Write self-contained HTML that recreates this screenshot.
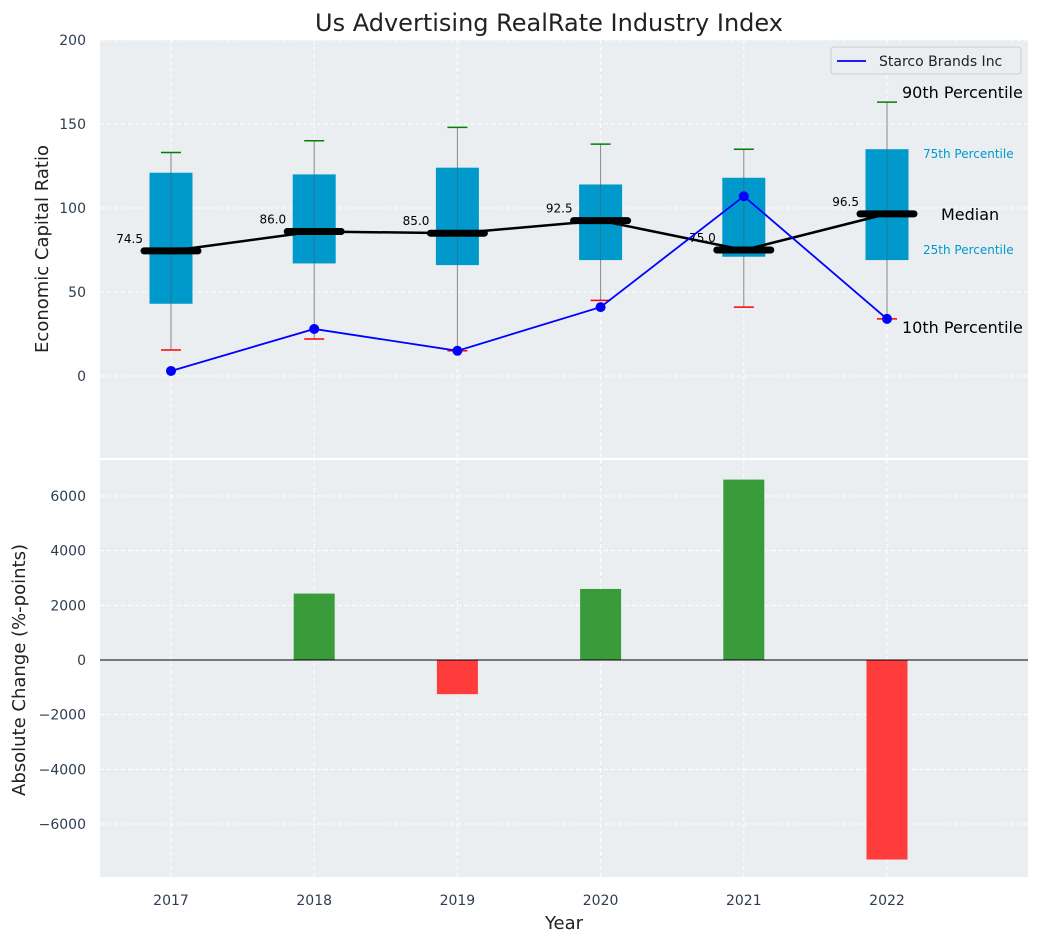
<!DOCTYPE html>
<html><head><meta charset="utf-8"><style>
body{margin:0;background:#fff;font-family:"Liberation Sans","DejaVu Sans",sans-serif}
svg text{font-family:"DejaVu Sans","Liberation Sans",sans-serif}
</style></head><body>
<svg id="c" width="1039" height="942" xmlns="http://www.w3.org/2000/svg"></svg>
<script>
const years=["2017","2018","2019","2020","2021","2022"];
const p10=[15.5,22,15,45,41,34];
const p25=[43,67,66,69,71,69];
const med=[74.5,86,85,92.5,75,96.5];
const p75=[121,120,124,114,118,135];
const p90=[133,140,148,138,135,163];
const company=[3,28,15,41,107,34];
const change=[0,2430,-1250,2600,6600,-7300];
const topTicks=[0,50,100,150,200];
const botTicks=[-6000,-4000,-2000,0,2000,4000,6000];

const S=document.getElementById('c');const NS='http://www.w3.org/2000/svg';
function el(t,a,txt){const e=document.createElementNS(NS,t);for(const k in a)e.setAttribute(k,a[k]);if(txt!==undefined)e.textContent=txt;S.appendChild(e);return e;}
const X0=100,X1=1028;
const x=i=>171+i*143.2;
const T0=40,T1=458; const yT=v=>376-v*1.68;
const B0=460,B1=877; const yB=v=>660-v*164/6000;

let e;
e=el('rect',{x:X0,y:T0,width:X1-X0,height:T1-T0,fill:'#eaeef0'});

e=el('rect',{x:X0,y:B0,width:X1-X0,height:B1-B0,fill:'#eaeef0'});


years.forEach((y,i)=>{
 e=el('line',{x1:x(i),x2:x(i),y1:T0,y2:T1,stroke:'#fff','stroke-dasharray':'4,3'});
 
 e=el('line',{x1:x(i),x2:x(i),y1:B0,y2:B1,stroke:'#fff','stroke-dasharray':'4,3'});
 
 e=el('text',{x:x(i),y:905,'text-anchor':'middle','font-size':14,fill:'#2d3e50'},y);
 
});
topTicks.forEach(v=>{
 e=el('line',{x1:X0,x2:X1,y1:yT(v),y2:yT(v),stroke:'#fff','stroke-dasharray':'4,3'});
 
 e=el('text',{x:86,y:yT(v)+5,'text-anchor':'end','font-size':14,fill:'#2d3e50'},v);
 
});
botTicks.forEach(v=>{
 e=el('line',{x1:X0,x2:X1,y1:yB(v),y2:yB(v),stroke:'#fff','stroke-dasharray':'4,3'});
 
 e=el('text',{x:86,y:yB(v)+5,'text-anchor':'end','font-size':14,fill:'#2d3e50'},String(v).replace('-','−'));
 
});

years.forEach((y,i)=>{
 const cx=x(i);
 e=el('line',{x1:cx,x2:cx,y1:yT(p10[i]),y2:yT(p90[i]),stroke:'#888','stroke-width':1});
 
 e=el('rect',{x:cx-21.5,y:yT(p75[i]),width:43,height:yT(p25[i])-yT(p75[i]),fill:'#0099cc'});
 
 e=el('line',{x1:cx,x2:cx,y1:yT(p25[i]),y2:yT(p75[i]),stroke:'#556',opacity:0.5,'stroke-width':1});
 
 e=el('line',{x1:cx-10,x2:cx+10,y1:yT(p90[i]),y2:yT(p90[i]),stroke:'green','stroke-width':1.5});
 
 e=el('line',{x1:cx-10,x2:cx+10,y1:yT(p10[i]),y2:yT(p10[i]),stroke:'red','stroke-width':1.5});
 
});
e=el('polyline',{points:med.map((v,i)=>x(i)+','+yT(v)).join(' '),fill:'none',stroke:'#000','stroke-width':2.5});

years.forEach((y,i)=>{
 e=el('line',{x1:x(i)-27,x2:x(i)+27,y1:yT(med[i]),y2:yT(med[i]),stroke:'#000','stroke-width':7,'stroke-linecap':'round'});
 
 e=el('text',{x:x(i)-28,y:yT(med[i])-8,'text-anchor':'end','font-size':12,fill:'#000'},med[i].toFixed(1));
 
});
e=el('polyline',{points:company.map((v,i)=>x(i)+','+yT(v)).join(' '),fill:'none',stroke:'blue','stroke-width':1.8});

company.forEach((v,i)=>{
 e=el('circle',{cx:x(i),cy:yT(v),r:5,fill:'blue'});
 
});
const L=5,lx=x(L);
[['90th Percentile',lx+15,yT(p90[L])-4,16,'#000'],['75th Percentile',lx+36,yT(p75[L])+9,12,'#0099cc'],['Median',lx+54,yT(med[L])+6,16,'#000'],['25th Percentile',lx+36,yT(p25[L])-6,12,'#0099cc'],['10th Percentile',lx+15,yT(p10[L])+14,16,'#000']].forEach(a=>{
 e=el('text',{x:a[1],y:a[2],'font-size':a[3],fill:a[4]},a[0]);
 
});
e=el('rect',{x:831,y:47,width:190,height:27,rx:3,fill:'#eaeef0',stroke:'#ccc'});

e=el('line',{x1:837,x2:866,y1:61,y2:61,stroke:'blue','stroke-width':1.8});

e=el('text',{x:879,y:66,'font-size':14,fill:'#222'},'Starco Brands Inc');


change.forEach((v,i)=>{
 const y0=yB(Math.max(v,0)),h=Math.abs(yB(v)-yB(0));
 e=el('rect',{x:x(i)-20.5,y:y0,width:41,height:h,fill:v>=0?'#3a9b3a':'#ff3c3c'});
 
});
e=el('line',{x1:X0,x2:X1,y1:yB(0),y2:yB(0),stroke:'#000','stroke-width':1});


e=el('text',{x:549,y:31,'text-anchor':'middle','font-size':24,fill:'#222'},'Us Advertising RealRate Industry Index');

e=el('text',{x:0,y:0,'text-anchor':'middle','font-size':18,fill:'#222',transform:'translate(48,249) rotate(-90)'},'Economic Capital Ratio');

e=el('text',{x:0,y:0,'text-anchor':'middle','font-size':18,fill:'#222',transform:'translate(25,670) rotate(-90)'},'Absolute Change (%-points)');

e=el('text',{x:564,y:929,'text-anchor':'middle','font-size':18,fill:'#222'},'Year');

</script>
</body></html>
